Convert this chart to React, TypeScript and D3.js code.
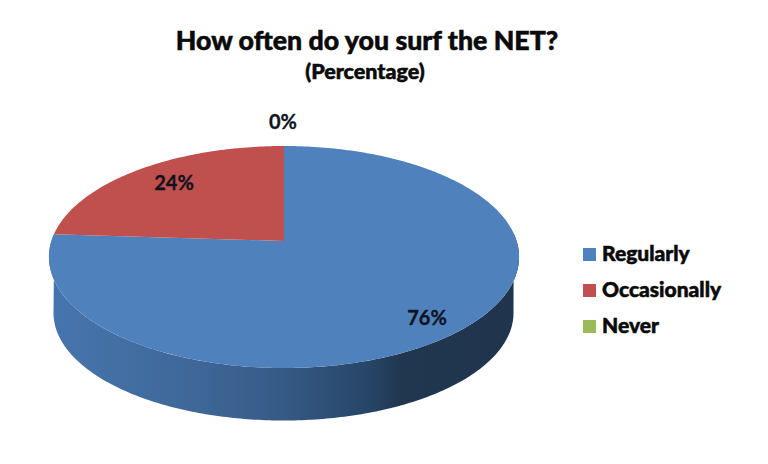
import React from "react";
import * as d3 from "d3";

const categories = ["Regularly", "Occasionally", "Never"];
const percents = [76, 24, 0];
const sliceLabels = ["76%", "24%", "0%"];
const colors = ["#4f81bd", "#c0504d", "#9bbb59"];

const W = 768, H = 464;
const cx = 284, topY = 146, hubY = 241, frontY = 368;
const radiusX = 232.6;
const rimCenterY = (topY + frontY) / 2;
const lowerCenterY = 313, lowerRy = 107.5, lowerRx = 230;

// Perspective of the tilted disc: v runs from -1 (far edge) to 1 (near edge)
const c = (2 * hubY - frontY - topY) / (frontY - topY);
const b = frontY * (1 + c) - hubY;
const project = (a: number): [number, number] => {
  const u = Math.sin(a), v = -Math.cos(a);
  const den = 1 + c * v;
  return [cx + (radiusX * u) / den, (hubY + b * v) / den];
};

const pieAngles = d3.pie<number>().sort(null).value((d) => d)(percents);
const line = d3.line();

function arcPath(a0: number, a1: number) {
  const n = Math.max(2, Math.ceil(Math.abs(a1 - a0) * 60));
  const pts = d3.range(n + 1).map((i) => project(a0 + ((a1 - a0) * i) / n));
  return line([[cx, hubY], ...pts]) + "Z";
}

// Side wall: near half of the top rim joined to the near half of the lower rim
const sidePath = (() => {
  const n = 200;
  const start = Math.PI / 2 - 0.07, end = (3 * Math.PI) / 2 + 0.07;
  const upper = d3.range(n + 1).map((i) => project(start + ((end - start) * i) / n));
  const lower = d3.range(n + 1).map((i): [number, number] => {
    const t = (Math.PI * i) / n; // right extreme to left extreme through the front
    return [cx - 0.5 + lowerRx * Math.cos(t), lowerCenterY + lowerRy * Math.sin(t)];
  }).reverse();
  return line([...upper, ...lower]) + "Z";
})();

const labelPos = [
  { x: 427, y: 325 },
  { x: 174, y: 190 },
  { x: 283, y: 129 },
];

const legendY = [254, 290, 326];

export default function App() {
  const font = "Lato, 'Open Sans', sans-serif";
  const heavy = { stroke: "#0a0a0a", strokeWidth: 0.55, paintOrder: "stroke" as const };
  return (
    <svg width={W} height={H} viewBox={`0 0 ${W} ${H}`} style={{ position: "absolute", left: 0, top: 0, background: "#fff" }} data-rim={rimCenterY}>
      <defs>
        <linearGradient id="side" gradientUnits="userSpaceOnUse" x1={49} x2={519} y1={0} y2={0}>
          <stop offset="0" stopColor="#4675ae" />
          <stop offset="0.3" stopColor="#3f6899" />
          <stop offset="0.5" stopColor="#355a85" />
          <stop offset="0.68" stopColor="#274568" />
          <stop offset="0.75" stopColor="#21364f" />
          <stop offset="1" stopColor="#20344e" />
        </linearGradient>
      </defs>
      <text x={367} y={50} textAnchor="middle" fontFamily={font} fontWeight={900} fontSize={26.7} fill="#0a0a0a" {...heavy}>How often do you surf the NET?</text>
      <text x={365} y={79} textAnchor="middle" fontFamily={font} fontWeight={900} fontSize={21.5} fill="#0a0a0a" {...heavy}>(Percentage)</text>
      <path d={sidePath} fill="url(#side)" />
      {pieAngles.map((s, i) =>
        s.endAngle > s.startAngle ? (
          <path key={categories[i]} d={arcPath(s.startAngle, s.endAngle)} fill={colors[i]} />
        ) : null
      )}
      {sliceLabels.map((t, i) => (
        <text key={t} x={labelPos[i].x} y={labelPos[i].y} textAnchor="middle" fontFamily={font} fontWeight={700} fontSize={20} fill="#10131f" stroke="#10131f" strokeWidth={0.3}>{t}</text>
      ))}
      {categories.map((t, i) => (
        <g key={t}>
          <rect x={583} y={legendY[i] - 6} width={13} height={13} fill={colors[i]} />
          <text x={602} y={legendY[i] + 7} fontFamily={font} fontWeight={900} fontSize={21} fill="#0a0a0a" {...heavy}>{t}</text>
        </g>
      ))}
    </svg>
  );
}
